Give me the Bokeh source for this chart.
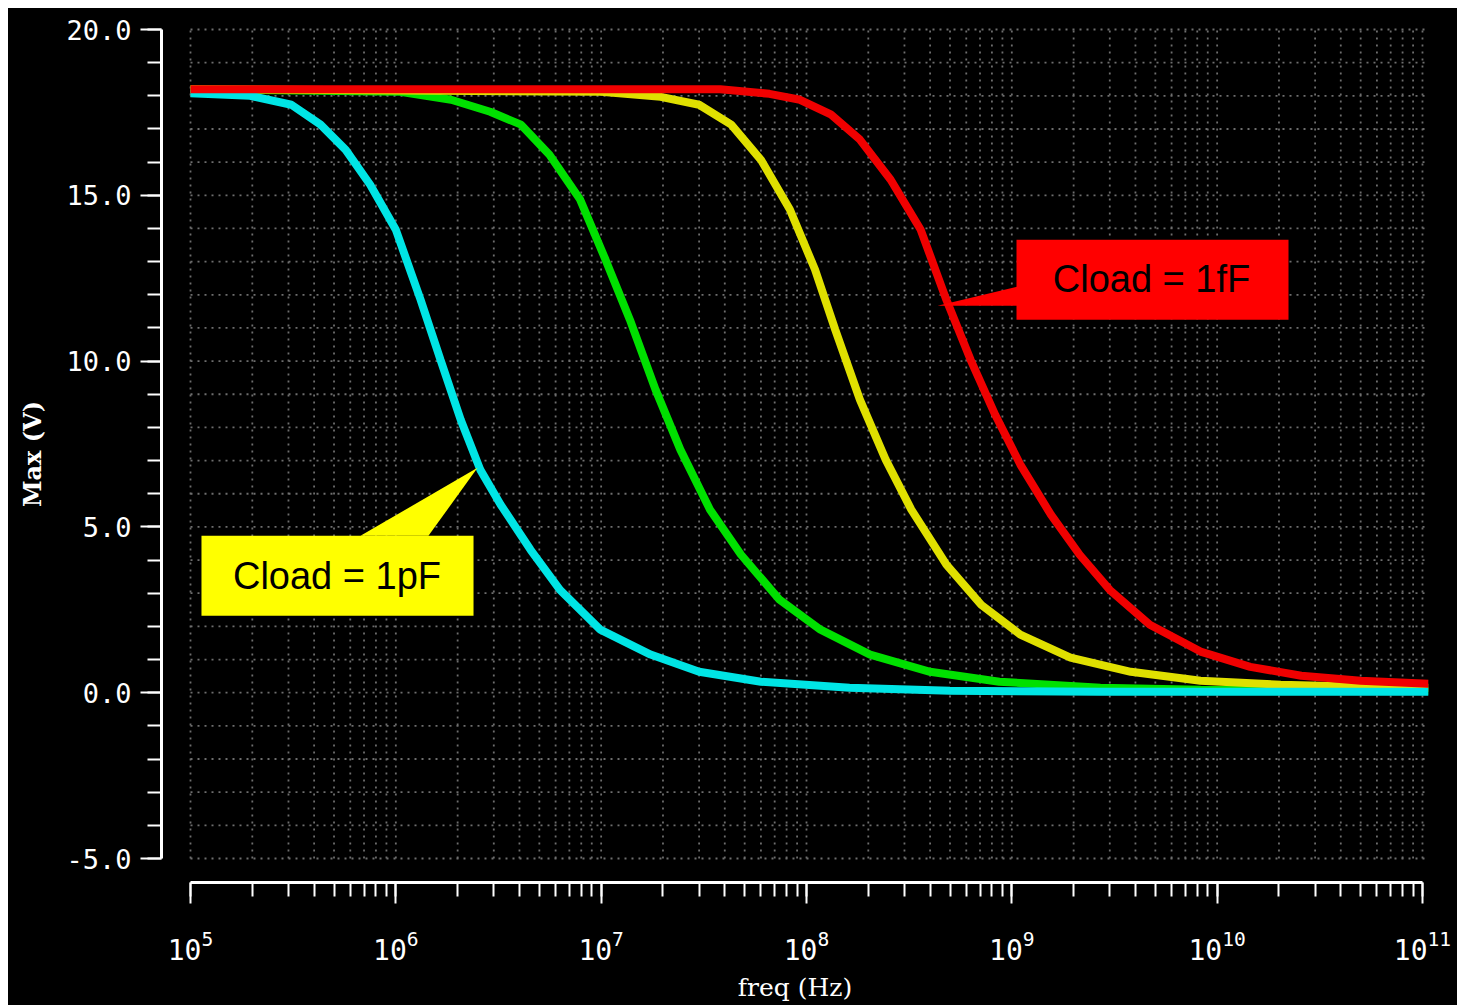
from bokeh.plotting import figure
from bokeh.models import (Range1d, LogTicker, SingleIntervalTicker, PrintfTickFormatter,
                          BoxAnnotation, PolyAnnotation, Label)
from bokeh.embed import file_html
from bokeh.resources import INLINE

# ---------------- data ----------------
cyan_freq = [1e5, 1.95e5, 3.1e5, 4.3e5, 5.7e5, 7.5e5, 1.0e6, 1.32e6, 1.65e6, 2.07e6, 2.58e6,
             3.24e6, 4.53e6, 6.3e6, 9.9e6, 1.74e7, 3.0e7, 6.0e7, 1.62e8, 5.0e8, 2.7e9, 1.07e11]
cyan_v = [18.08, 18.0, 17.73, 17.13, 16.37, 15.32, 13.96, 11.85, 10.04, 8.23, 6.72,
          5.67, 4.31, 3.1, 1.9, 1.15, 0.63, 0.33, 0.15, 0.06, 0.03, 0.03]

green_freq = [1e5, 1.05e6, 1.86e6, 2.88e6, 4.07e6, 5.6e6, 7.9e6, 1.05e7, 1.38e7, 1.84e7, 2.43e7,
              3.39e7, 4.8e7, 7.4e7, 1.17e8, 2.04e8, 4.0e8, 8.7e8, 2.7e9, 8.3e9, 1.07e11]
green_v = [18.2, 18.12, 17.88, 17.52, 17.13, 16.22, 14.87, 13.06, 11.25, 9.14, 7.33,
           5.52, 4.16, 2.8, 1.9, 1.15, 0.63, 0.33, 0.15, 0.09, 0.06]

yellow_freq = [1e5, 1.0e7, 1.95e7, 3.0e7, 4.3e7, 6.0e7, 8.3e7, 1.1e8, 1.38e8, 1.82e8, 2.43e8,
               3.24e8, 4.8e8, 7.1e8, 1.1e9, 1.93e9, 3.8e9, 8.3e9, 2.04e10, 5.0e10, 1.07e11]
yellow_v = [18.2, 18.12, 17.97, 17.73, 17.13, 16.07, 14.57, 12.76, 10.95, 8.84, 7.03,
            5.52, 3.86, 2.65, 1.75, 1.06, 0.63, 0.36, 0.24, 0.18, 0.15]

red_freq = [1e5, 3.8e7, 6.6e7, 9.3e7, 1.32e8, 1.82e8, 2.57e8, 3.6e8, 4.8e8, 6.3e8, 8.3e8,
            1.1e9, 1.55e9, 2.14e9, 3.0e9, 4.7e9, 8.3e9, 1.45e10, 2.57e10, 5.0e10, 1.07e11]
red_v = [18.2, 18.2, 18.06, 17.88, 17.43, 16.68, 15.47, 13.96, 11.85, 10.04, 8.38,
         6.88, 5.37, 4.16, 3.1, 2.05, 1.24, 0.78, 0.51, 0.36, 0.27]

y_ticks_major = [-5, 0, 5, 10, 15, 20]
x_decades = [5, 6, 7, 8, 9, 10, 11]

label_1pF = "Cload = 1pF"
label_1fF = "Cload = 1fF"

# ---------------- layout geometry ----------------
PAGE_OFF = 8
W, H = 1457 - PAGE_OFF, 1005 - PAGE_OFF
ML, MR, MT, MB = 153, 29, 17, 123
frame_w = W - ML - MR
frame_h = H - MT - MB
PX_DEC = 205.33      # pixels per decade
X0_OFF = 29          # frame-left to 1e5, px
PX_V = 33.16         # pixels per volt
x_start = 10 ** (5 - X0_OFF / PX_DEC)
x_end = 10 ** (5 + (frame_w - X0_OFF) / PX_DEC)
y_top = 20 + 4 / PX_V
y_bot = y_top - frame_h / PX_V

p = figure(width=W, height=H, x_axis_type="log",
           x_range=Range1d(x_start, x_end), y_range=Range1d(y_bot, y_top),
           output_backend="svg", toolbar_location=None,
           background_fill_color="black", border_fill_color="black",
           outline_line_color=None, margin=(PAGE_OFF, 0, 0, PAGE_OFF),
           min_border_left=ML, min_border_right=MR, min_border_top=MT, min_border_bottom=MB)
p.styles = {"background-color": "black"}
p.grid.visible = False

# ---------------- dotted grid ----------------
gx0, gx1 = 10.0 ** x_decades[0], 10.0 ** x_decades[-1]
gy0, gy1 = y_ticks_major[0], y_ticks_major[-1]
h_levels = list(range(gy0, gy1 + 1))
v_levels = [m * 10.0 ** d for d in x_decades[:-1] for m in range(1, 10)] + [gx1]
p.segment(x0=[gx0] * len(h_levels), x1=[gx1 * 1.03] * len(h_levels), y0=h_levels, y1=h_levels,
          line_color="#6e6e6e", line_width=1.8, line_dash="2 5")
p.segment(x0=v_levels, x1=v_levels, y0=[gy0] * len(v_levels), y1=[gy1] * len(v_levels),
          line_color="#6e6e6e", line_width=1.8, line_dash="2 5")

# ---------------- curves ----------------
LW = 8
p.line(green_freq, green_v, line_color="#00E000", line_width=LW)
p.line(yellow_freq, yellow_v, line_color="#E0E000", line_width=LW)
p.line(cyan_freq, cyan_v, line_color="#00E5E5", line_width=LW)
p.line(red_freq, red_v, line_color="#F00000", line_width=LW)

# ---------------- axes ----------------
yax = p.yaxis[0]
yax.ticker = SingleIntervalTicker(interval=5, num_minor_ticks=5)
yax.bounds = (y_ticks_major[0], y_ticks_major[-1])
yax.formatter = PrintfTickFormatter(format="%.1f")
yax.axis_line_color = "white"
yax.axis_line_width = 3
yax.major_tick_line_color = "white"
yax.major_tick_line_width = 2
yax.major_tick_in = 0
yax.major_tick_out = 21
yax.minor_tick_line_color = "white"
yax.minor_tick_line_width = 2
yax.minor_tick_in = 0
yax.minor_tick_out = 14
yax.major_label_text_color = "white"
yax.major_label_text_font = "DejaVu Sans Mono"
yax.major_label_text_font_size = "27px"
yax.major_label_standoff = 9
yax.axis_label = "Max (V)"
yax.axis_label_text_color = "white"
yax.axis_label_text_font = "DejaVu Serif"
yax.axis_label_text_font_style = "bold"
yax.axis_label_text_font_size = "24px"
yax.axis_label_standoff = 16

xax = p.xaxis[0]
xax.ticker = LogTicker(num_minor_ticks=10)
xax.bounds = (10.0 ** x_decades[0], 10.0 ** x_decades[-1])
xax.axis_line_color = "white"
xax.axis_line_width = 3
xax.major_tick_line_color = "white"
xax.major_tick_line_width = 2
xax.major_tick_in = 0
xax.major_tick_out = 21
xax.minor_tick_line_color = "white"
xax.minor_tick_line_width = 2
xax.minor_tick_in = 0
xax.minor_tick_out = 14
xax.major_label_text_color = "white"
xax.major_label_text_font = "DejaVu Sans Mono"
xax.major_label_text_font_size = "28px"
xax.major_label_standoff = 26
xax.axis_label = "freq (Hz)"
xax.axis_label_text_color = "white"
xax.axis_label_text_font = "DejaVu Serif"
xax.axis_label_text_font_style = "normal"
xax.axis_label_text_font_size = "25px"
xax.axis_label_standoff = 10

# ---------------- callouts ----------------
# yellow (1pF)
p.add_layout(BoxAnnotation(left=1.131e5, right=2.39e6, bottom=2.32, top=4.73,
                           fill_color="#FFFF00", fill_alpha=1, line_color=None))
p.add_layout(PolyAnnotation(xs=[6.73e5, 2.50e6, 1.442e6], ys=[4.73, 6.785, 4.73],
                            fill_color="#FFFF00", fill_alpha=1, line_color=None))
p.add_layout(Label(x=5.17e5, y=3.52, text=label_1pF, text_align="center", text_baseline="middle",
                   text_font="Liberation Sans", text_font_size="38px", text_color="black"))
# red (1fF)
p.add_layout(BoxAnnotation(left=1.054e9, right=2.226e10, bottom=11.25, top=13.66,
                           fill_color="#FF0000", fill_alpha=1, line_color=None))
p.add_layout(PolyAnnotation(xs=[4.35e8, 1.06e9, 1.06e9], ys=[11.67, 12.24, 11.67],
                            fill_color="#FF0000", fill_alpha=1, line_color=None))
p.add_layout(Label(x=4.79e9, y=12.47, text=label_1fF, text_align="center", text_baseline="middle",
                   text_font="Liberation Sans", text_font_size="38px", text_color="black"))

open("out.html", "w").write(file_html(p, INLINE))
